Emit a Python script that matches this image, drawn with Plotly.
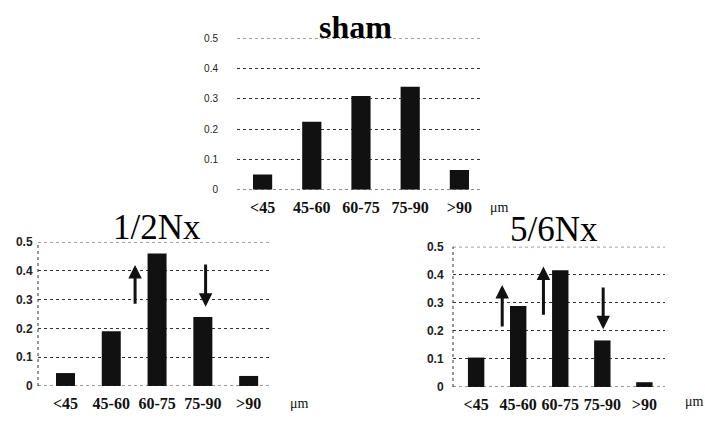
import plotly.graph_objects as go

# ---- data ----
categories = ["<45", "45-60", "60-75", "75-90", ">90"]
sham_values = [0.05, 0.225, 0.31, 0.34, 0.065]
half_nx_values = [0.045, 0.19, 0.46, 0.24, 0.035]
five_six_nx_values = [0.105, 0.289, 0.416, 0.166, 0.017]
y_ticks = [0, 0.1, 0.2, 0.3, 0.4, 0.5]
y_tick_labels = ["0", "0.1", "0.2", "0.3", "0.4", "0.5"]
unit_label = "μm"
titles = ["sham", "1/2Nx", "5/6Nx"]

W, H = 705, 423
idx = list(range(len(categories)))
BAR = "#111111"
GRID = "#333333"


def px(x):
    return x / W


def py(y):
    return 1 - y / H


fig = go.Figure()

panels = [
    # values, axis suffix, x domain px, y top/bottom px, x range, bar width, ytick font, ytick len, bold y
    (sham_values, "", (237, 483), (32.5, 189), (-0.52, 4.48), 0.39, 10, 16, False),
    (half_nx_values, "2", (38, 272), (243, 392), (-0.60, 4.51), 0.415, 12, 2, True),
    (five_six_nx_values, "3", (453, 665), (248, 393), (-0.55, 4.49), 0.39, 12, 6, True),
]

layout = {}
for vals, s, (x0, x1), (ytop, ybot), xr, bw, yfs, ytl, yb in panels:
    fig.add_trace(go.Bar(
        x=idx, y=vals, width=bw,
        marker=dict(color=BAR, line=dict(width=0)),
        xaxis="x" + s, yaxis="y" + s, showlegend=False, hoverinfo="skip",
    ))
    layout["xaxis" + s] = dict(
        domain=[px(x0), px(x1)], range=list(xr),
        tickmode="array", tickvals=idx,
        ticktext=[f"<b>{c.replace('<', '&lt;').replace('>', '&gt;')}</b>" for c in categories],
        showgrid=False, zeroline=False, showline=False,
        ticks="outside", ticklen=3, tickcolor="rgba(0,0,0,0)",
        tickfont=dict(family="Liberation Serif", size=16, color="#111"),
        anchor="y" + s, fixedrange=True,
    )
    layout["yaxis" + s] = dict(
        domain=[py(ybot), py(ytop)], range=[0, 0.5],
        tickmode="array", tickvals=y_ticks,
        ticktext=[f"<b>{t}</b>" if yb else t for t in y_tick_labels],
        showgrid=True, gridcolor=GRID, gridwidth=1, griddash="dot",
        zeroline=False, showline=False,
        ticks="outside", ticklen=ytl, tickcolor="rgba(0,0,0,0)",
        tickfont=dict(family="Liberation Sans", size=yfs, color="#222"),
        anchor="x" + s, fixedrange=True,
    )

fig.update_layout(**layout)

shapes = []
# dotted baseline and top line for each panel
for vals, s, (x0, x1), (ytop, ybot), xr, bw, yfs, ytl, yb in panels:
    for yv in (0, 0.5):
        shapes.append(dict(type="line", xref=("x" + s + " domain") if s else "x domain",
                           yref="y" + s, x0=0, x1=1, y0=yv, y1=yv,
                           line=dict(color=GRID, width=1, dash="dot")))
# dotted left axis for lower panels
for s in ("2", "3"):
    shapes.append(dict(type="line", xref="x" + s + " domain", yref="y" + s + " domain",
                       x0=0, x1=0, y0=0, y1=1,
                       line=dict(color=GRID, width=1, dash="dot")))
fig.update_layout(shapes=shapes)

annotations = []
# titles
title_pos = [(356, 21, True, 32), (157, 228, False, 35), (554, 230, False, 35)]
for t, (tx, ty, bold, fs) in zip(titles, title_pos):
    annotations.append(dict(
        text=f"<b>{t}</b>" if bold else t, x=px(tx), y=py(ty), xref="paper", yref="paper",
        showarrow=False, xanchor="center", yanchor="middle",
        font=dict(family="Liberation Serif", size=fs, color="#000"),
    ))
# unit labels
for ux, uy in [(499, 207), (299, 410), (694, 408)]:
    annotations.append(dict(
        text=unit_label, x=px(ux), y=py(uy), xref="paper", yref="paper",
        showarrow=False, xanchor="center", yanchor="middle",
        font=dict(family="Liberation Serif", size=14, color="#111"),
    ))

# change-indicator arrows: (axis suffix, x position, tail value, head value)
arrows = [
    ("2", 1.52, 0.28, 0.42),
    ("2", 3.06, 0.427, 0.275),
    ("3", 0.62, 0.21, 0.364),
    ("3", 1.60, 0.252, 0.43),
    ("3", 3.02, 0.36, 0.206),
]
for s, ax_, y_tail, y_head in arrows:
    annotations.append(dict(
        x=ax_, y=y_head, ax=ax_, ay=y_tail,
        xref="x" + s, yref="y" + s, axref="x" + s, ayref="y" + s,
        showarrow=True, arrowhead=2, arrowsize=0.9, arrowwidth=3, arrowcolor="#111",
        text="",
    ))
fig.update_layout(annotations=annotations)

fig.update_layout(
    width=W, height=H,
    margin=dict(l=0, r=0, t=0, b=0),
    paper_bgcolor="white", plot_bgcolor="white",
    bargap=0.6,
)

fig.write_html("out.html",
               config={"displayModeBar": False},
               post_script="document.body.style.margin='0';document.body.style.overflow='hidden';")
